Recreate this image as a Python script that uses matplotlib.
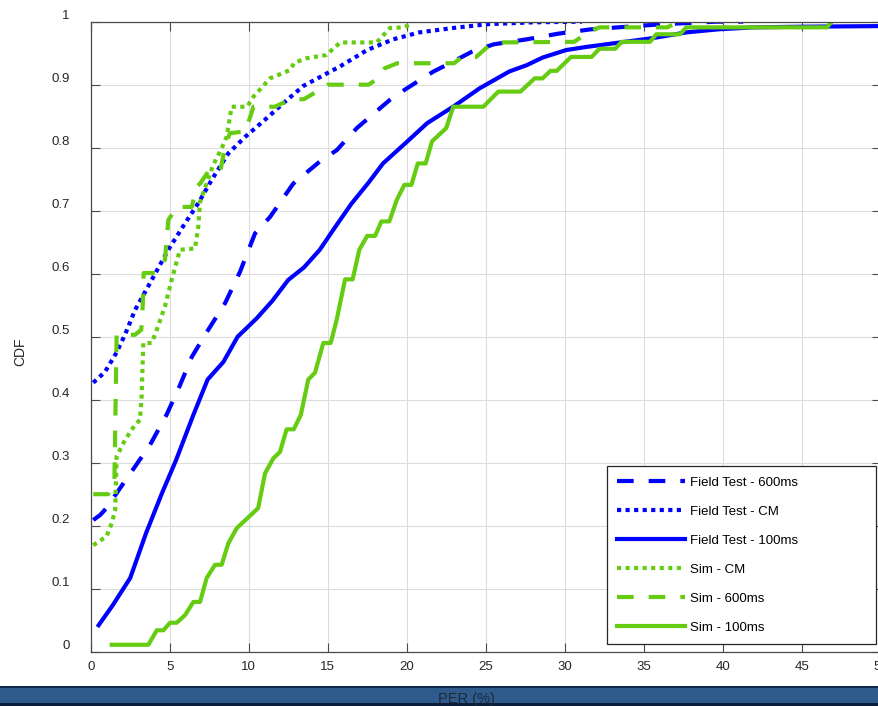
import matplotlib
matplotlib.use('Agg')
import matplotlib.pyplot as plt
from matplotlib.patches import Rectangle

plt.rcParams['font.family'] = ['Liberation Sans', 'DejaVu Sans']

# --- data (PER %, CDF) ---
ft600_x = [0.16, 0.6, 1.0, 2.06, 2.7, 3.75, 4.8, 5.65, 6.4, 7.44, 8.5, 9.45, 10.4, 11.35,
           12.82, 14.5, 15.57, 16.84, 18.94, 20.0, 21.7, 22.5, 24.1, 25.5, 27.6, 29.6,
           31.7, 36.2, 39.6, 41.3]
ft600_y = [0.209, 0.217, 0.228, 0.267, 0.29, 0.328, 0.376, 0.423, 0.468, 0.511, 0.553,
           0.603, 0.664, 0.69, 0.743, 0.778, 0.796, 0.831, 0.876, 0.894, 0.921, 0.931,
           0.952, 0.964, 0.972, 0.981, 0.988, 0.996, 1.0, 1.0]

ftcm_x = [0.16, 0.9, 1.64, 2.2, 2.8, 3.86, 4.91, 5.97, 6.81, 7.66, 8.71, 9.77, 11.24,
          12.3, 13.46, 15.78, 17.5, 19.15, 20.8, 22.95, 25.1, 28.0, 31.1]
ftcm_y = [0.427, 0.444, 0.475, 0.505, 0.542, 0.59, 0.638, 0.68, 0.712, 0.749, 0.791,
          0.817, 0.849, 0.873, 0.898, 0.929, 0.955, 0.972, 0.983, 0.99, 0.996, 0.999, 1.0]

ft100_x = [0.5, 1.4, 2.5, 3.5, 4.5, 5.4, 6.5, 7.4, 8.4, 9.3, 10.5, 11.5, 12.5, 13.5, 14.5,
           15.5, 16.5, 17.6, 18.5, 20.0, 21.3, 23.0, 24.6, 26.5, 27.6, 28.6, 30.1, 31.4,
           33.5, 35.6, 37.7, 39.8, 42.0, 45.0, 50.0]
ft100_y = [0.042, 0.074, 0.117, 0.188, 0.251, 0.304, 0.376, 0.432, 0.46, 0.5, 0.529,
           0.557, 0.59, 0.61, 0.638, 0.675, 0.711, 0.745, 0.775, 0.809, 0.839, 0.866,
           0.894, 0.921, 0.931, 0.943, 0.955, 0.96, 0.967, 0.974, 0.983, 0.988, 0.991,
           0.992, 0.993]

simcm_x = [0.16, 1.0, 1.33, 1.55, 1.64, 2.17, 2.8, 3.12, 3.22, 3.33, 3.86, 4.18, 4.7,
           5.12, 5.65, 6.6, 6.81, 6.92, 7.76, 8.29, 8.6, 8.92, 9.9, 10.3, 11.35, 12.6,
           12.9, 13.67, 14.9, 15.8, 18.1, 18.94, 19.8, 20.4]
simcm_y = [0.169, 0.183, 0.204, 0.225, 0.31, 0.336, 0.36, 0.368, 0.405, 0.49, 0.49,
           0.511, 0.548, 0.59, 0.638, 0.64, 0.675, 0.714, 0.773, 0.799, 0.817, 0.865,
           0.865, 0.881, 0.91, 0.923, 0.935, 0.942, 0.947, 0.967, 0.967, 0.99, 0.991,
           0.997]

sim600_x = [0.16, 1.1, 1.5, 1.64, 2.8, 3.2, 3.3, 3.35, 4.07, 4.7, 4.91, 5.44, 6.4, 6.7,
            6.92, 7.44, 8.2, 8.5, 8.81, 9.8, 10.3, 11.66, 12.6, 13.5, 14.3, 15.0, 17.6,
            18.0, 18.6, 19.4, 23.0, 23.5, 24.4, 25.2, 25.7, 30.6, 31.6, 32.2, 36.5, 37.2]
sim600_y = [0.25, 0.25, 0.27, 0.503, 0.503, 0.511, 0.553, 0.601, 0.601, 0.622, 0.685,
            0.706, 0.706, 0.738, 0.743, 0.762, 0.762, 0.802, 0.823, 0.826, 0.865, 0.865,
            0.876, 0.877, 0.889, 0.9, 0.9, 0.907, 0.926, 0.934, 0.934, 0.944, 0.944,
            0.962, 0.967, 0.968, 0.985, 0.991, 0.991, 1.0]

sim100_x = [1.33, 3.65, 4.18, 4.6, 5.02, 5.44, 5.97, 6.5, 6.92, 7.34, 7.87, 8.29, 8.71,
            9.24, 10.6, 11.03, 11.56, 11.98, 12.4, 12.85, 13.3, 13.77, 14.2, 14.72, 15.19,
            15.57, 16.1, 16.58, 17.0, 17.5, 18.0, 18.4, 18.9, 19.37, 19.85, 20.3, 20.7,
            21.2, 21.6, 22.5, 22.95, 24.85, 25.8, 27.2, 28.1, 28.6, 29.1, 29.5, 30.4,
            31.7, 32.2, 33.2, 33.6, 35.4, 35.8, 37.3, 37.7, 46.6, 46.9]
sim100_y = [0.011, 0.011, 0.034, 0.034, 0.046, 0.046, 0.058, 0.079, 0.079, 0.117, 0.138,
            0.138, 0.172, 0.196, 0.228, 0.283, 0.307, 0.317, 0.353, 0.353, 0.376, 0.432,
            0.443, 0.49, 0.49, 0.527, 0.591, 0.591, 0.638, 0.66, 0.66, 0.683, 0.683,
            0.717, 0.741, 0.741, 0.775, 0.775, 0.81, 0.831, 0.865, 0.865, 0.889, 0.889,
            0.91, 0.91, 0.922, 0.922, 0.944, 0.944, 0.957, 0.957, 0.968, 0.968, 0.98,
            0.98, 0.991, 0.991, 1.0]

labels = ['Field Test - 600ms', 'Field Test - CM', 'Field Test - 100ms',
          'Sim - CM', 'Sim - 600ms', 'Sim - 100ms']

BLUE = '#0000ff'
GREEN = '#66cc11'
LW = 3
DASH = (4.0, 3.6)
DOT = (1.0, 1.05)

fig = plt.figure(figsize=(8.79, 7.06), dpi=100)
ax = fig.add_axes([0.1032, 0.0769, 0.8987, 0.8924])

ax.plot(ft600_x, ft600_y, color=BLUE, lw=LW, dashes=DASH, label=labels[0])
ax.plot(ftcm_x, ftcm_y, color=BLUE, lw=LW, dashes=DOT, label=labels[1])
ax.plot(ft100_x, ft100_y, color=BLUE, lw=LW, label=labels[2])
ax.plot(simcm_x, simcm_y, color=GREEN, lw=LW, dashes=DOT, label=labels[3])
ax.plot(sim600_x, sim600_y, color=GREEN, lw=LW, dashes=DASH, label=labels[4])
ax.plot(sim100_x, sim100_y, color=GREEN, lw=LW, label=labels[5])

ax.set_xlim(0, 50)
ax.set_ylim(0, 1)
ax.set_xticks(range(0, 51, 5))
ax.set_yticks([0, 0.1, 0.2, 0.3, 0.4, 0.5, 0.6, 0.7, 0.8, 0.9, 1])
ax.set_yticklabels(['0', '0.1', '0.2', '0.3', '0.4', '0.5', '0.6', '0.7', '0.8', '0.9', '1'])
ax.grid(True, color='#dcdcdc', lw=0.8)
ax.set_axisbelow(True)
for s in ax.spines.values():
    s.set_color('#4a4a4a')
    s.set_linewidth(0.9)
ax.tick_params(direction='in', length=6.5, width=0.8, color='#4a4a4a',
               top=True, right=True, labelsize=9.5, labelcolor='#262626')
ax.tick_params(axis='x', pad=7)
ax.tick_params(axis='y', pad=15)
plt.setp(ax.get_yticklabels(), va='bottom')

# legend box: x 607..876, y 466..645 px
leg = ax.legend(loc='upper left',
                bbox_to_anchor=(606.7 / 879, 1 - 645 / 706, 269 / 879, 179 / 706),
                bbox_transform=fig.transFigure, mode='expand', fancybox=False,
                framealpha=1, edgecolor='#262626', fontsize=9.5, handlelength=5.1,
                handletextpad=0.4, labelspacing=1.27, borderpad=0.8, borderaxespad=0)
leg.get_frame().set_linewidth(0.9)

fig.text(20 / 879, 1 - 352 / 706, 'CDF', rotation=90, ha='center', va='center',
         fontsize=10, color='#262626')

# screenshot taskbar strip at the bottom
fig.add_artist(Rectangle((0, 0), 1, 20.3 / 706, transform=fig.transFigure,
                         facecolor='#2e5b8c', edgecolor='none', zorder=5))
fig.add_artist(Rectangle((0, 17.8 / 706), 1, 2.5 / 706, transform=fig.transFigure,
                         facecolor='#10294a', edgecolor='none', zorder=6))
fig.add_artist(Rectangle((0, 0), 1, 3 / 706, transform=fig.transFigure,
                         facecolor='#0c1f3a', edgecolor='none', zorder=6))
fig.text(466 / 879, 2.5 / 706, 'PER (%)', ha='center', va='baseline', fontsize=10.5,
         color='#1e2a38', zorder=7)

fig.savefig('out.png', dpi=100)
